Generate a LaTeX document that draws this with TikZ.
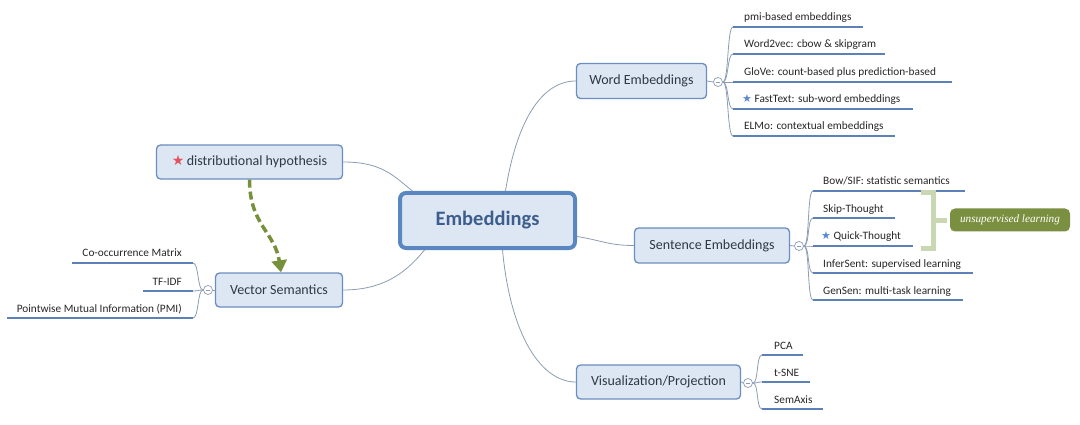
\documentclass[tikz,border=0pt]{standalone}
\usepackage{fontspec}
\setmainfont{Carlito}
\newfontfamily\symf{DejaVu Sans}
\newfontfamily\labf{Liberation Serif}
\usetikzlibrary{arrows.meta}
\definecolor{boxfill}{HTML}{DDE7F3}
\definecolor{boxdraw}{HTML}{6B8DBF}
\definecolor{cdraw}{HTML}{5A87C2}
\definecolor{ctext}{HTML}{3D5E8C}
\definecolor{txt}{HTML}{2F3846}
\definecolor{conn}{HTML}{8C9DB3}
\definecolor{uline}{HTML}{5C80B8}
\definecolor{olive}{HTML}{77903A}
\definecolor{brk}{HTML}{C9D7B3}
\definecolor{lab}{HTML}{7B8F40}
\definecolor{starred}{HTML}{E2535F}
\definecolor{starblue}{HTML}{5B88D4}
\newcommand{\rstar}{{\symf\color{starred}\fontsize{14}{14}\selectfont ★}}
\newcommand{\bstar}{{\symf\color{starblue}\fontsize{11}{11}\selectfont ★}}
\begin{document}
\begin{tikzpicture}[x=1pt,y=-1pt,
  topic/.style={draw=boxdraw,fill=boxfill,line width=1.3pt,rounded corners=4pt,
    text=txt,font=\fontsize{14}{16}\selectfont,inner sep=0pt},
  central/.style={draw=cdraw,fill=boxfill,line width=4pt,rounded corners=6pt,
    text=ctext,font=\bfseries\fontsize{20.5}{22}\selectfont,inner sep=0pt},
  collapse/.style={circle,draw=conn,fill=white,line width=0.7pt,inner sep=0pt,minimum size=9pt,
    path picture={\draw[conn,line width=0.6pt] ([xshift=-2.3pt]path picture bounding box.center) -- ([xshift=2.3pt]path picture bounding box.center);}},
  leaf/.style={font=\fontsize{11.3}{13}\selectfont,text=black!85,inner sep=0pt},
  uln/.style={draw=uline,line width=2.6pt},
  conn/.style={draw=conn,line width=0.8pt},
  branch/.style={draw=conn,line width=0.8pt},
  dasharrow/.style={draw=olive,line width=3.5pt,dash pattern=on 8pt off 4pt,
    -{Triangle[width=15pt,length=12pt]}},
  bracket/.style={draw=brk,line width=5pt},
  labelbox/.style={fill=lab,rounded corners=5pt,text=white,
    font=\labf\itshape\fontsize{11.2}{13}\selectfont,minimum width=120pt,minimum height=23pt,inner sep=0pt}
]
\useasboundingbox (0,0) rectangle (1080,425);

% main nodes
\node[central,minimum width=175pt,minimum height=55pt] (emb) at (487.5,220.5) {Embeddings};
\node[topic,minimum width=130pt,minimum height=35pt] (we) at (641.5,81) {Word Embeddings};
\node[topic,minimum width=155pt,minimum height=35pt] (se) at (712,245.5) {Sentence Embeddings};
\node[topic,minimum width=164pt,minimum height=34pt] (vis) at (658.5,382) {Visualization/Projection};
\node[topic,minimum width=127pt,minimum height=34pt] (vs) at (279,290) {Vector Semantics};
\node[topic,minimum width=186pt,minimum height=34pt] (dh) at (249.5,162) {\rstar\,distributional hypothesis};

% collapse indicators
\node[collapse] (cw) at (718,82) {};
\node[collapse] (cs) at (799,246) {};
\node[collapse] (cv) at (748,383) {};
\node[collapse] (cl) at (208,290) {};

% main connectors
\draw[conn] ([xshift=18pt]emb.north) .. controls +(12,-75) and +(-32,0) .. (we.west);
\draw[conn] ([yshift=-16pt]emb.east) .. controls +(25,4) and +(-25,0) .. (se.west);
\draw[conn] ([xshift=15pt]emb.south) .. controls +(8,85) and +(-35,0) .. (vis.west);
\draw[conn] (dh.east) .. controls +(40,0) and +(-18,-14) .. ([xshift=-75pt]emb.north);
\draw[conn] (vs.east) .. controls +(45,0) and +(-15,18) .. ([xshift=-63pt]emb.south);

% connectors to collapse indicators
\draw[branch] (we.east) -- (cw.west);
\draw[branch] (se.east) -- (cs.west);
\draw[branch] (vis.east) -- (cv.west);
\draw[branch] (vs.west) -- (cl.east);

% dashed arrow
\draw[dasharrow] (dh.south) .. controls +(0,45) and +(-6,-40) .. ([xshift=2pt]vs.north);

% Word Embeddings leaves
\foreach \n/\y/\e in {w1/27/863,w2/54/885,w3/82/952,w4/109/913,w5/136/895}{
  \coordinate (\n s) at (733,\y);
  \coordinate (\n e) at (\e,\y);
}
\node[leaf,anchor=base west] (tw1) at (744,21) {pmi-based embeddings};
\node[leaf,anchor=base west] (tw2) at (744,48) {Word2vec: cbow \& skipgram};
\node[leaf,anchor=base west] (tw3) at (744,76) {GloVe: count-based plus prediction-based};
\node[leaf,anchor=base west] (tw4) at (742,103) {\bstar\ FastText: sub-word embeddings};
\node[leaf,anchor=base west] (tw5) at (744,130) {ELMo: contextual embeddings};
\foreach \n in {w1,w2,w3,w4,w5}{
  \draw[branch] (cw.east) .. controls +(6,0) and +(-6,0) .. (\n s);
  \draw[uln] (\n s) -- (\n e);
}

% Sentence Embeddings leaves
\foreach \n/\y/\e in {s1/191/965,s2/218/895,s3/246/913,s4/273/973,s5/300/963}{
  \coordinate (\n s) at (813,\y);
  \coordinate (\n e) at (\e,\y);
}
\node[leaf,anchor=base west] (ts1) at (823,185) {Bow/SIF: statistic semantics};
\node[leaf,anchor=base west] (ts2) at (823,212) {Skip-Thought};
\node[leaf,anchor=base west] (ts3) at (821,240) {\bstar\ Quick-Thought};
\node[leaf,anchor=base west] (ts4) at (823,267) {InferSent: supervised learning};
\node[leaf,anchor=base west] (ts5) at (823,294) {GenSen: multi-task learning};
\foreach \n in {s1,s2,s3,s4,s5}{
  \draw[branch] (cs.east) .. controls +(6,0) and +(-6,0) .. (\n s);
  \draw[uln] (\n s) -- (\n e);
}

% bracket and label
\coordinate (bt) at (921,193);
\coordinate (bb) at (921,248);
\coordinate (bm) at (933,221);
\coordinate (bmr) at (947,221);
\draw[bracket] (bt) -- (933,193) -- (933,248) -- (bb);
\draw[bracket] (bm) -- (bmr);
\node[labelbox] (ul) at (1010,220) {unsupervised learning};

% Visualization leaves
\foreach \n/\y/\e in {v1/355/803,v2/382/810,v3/409/823}{
  \coordinate (\n s) at (762,\y);
  \coordinate (\n e) at (\e,\y);
}
\node[leaf,anchor=base west] (tv1) at (774,349) {PCA};
\node[leaf,anchor=base west] (tv2) at (774,376) {t-SNE};
\node[leaf,anchor=base west] (tv3) at (774,403) {SemAxis};
\foreach \n in {v1,v2,v3}{
  \draw[branch] (cv.east) .. controls +(6,0) and +(-6,0) .. (\n s);
  \draw[uln] (\n s) -- (\n e);
}

% Vector Semantics leaves
\foreach \n/\y/\e in {l1/263/72,l2/291/143,l3/318/7}{
  \coordinate (\n s) at (193,\y);
  \coordinate (\n e) at (\e,\y);
}
\node[leaf,anchor=base east] (tl1) at (182,257) {Co-occurrence Matrix};
\node[leaf,anchor=base east] (tl2) at (182,285) {TF-IDF};
\node[leaf,anchor=base east] (tl3) at (182,312) {Pointwise Mutual Information (PMI)};
\foreach \n in {l1,l2,l3}{
  \draw[branch] (cl.west) .. controls +(-6,0) and +(6,0) .. (\n s);
  \draw[uln] (\n s) -- (\n e);
}
\end{tikzpicture}
\end{document}
